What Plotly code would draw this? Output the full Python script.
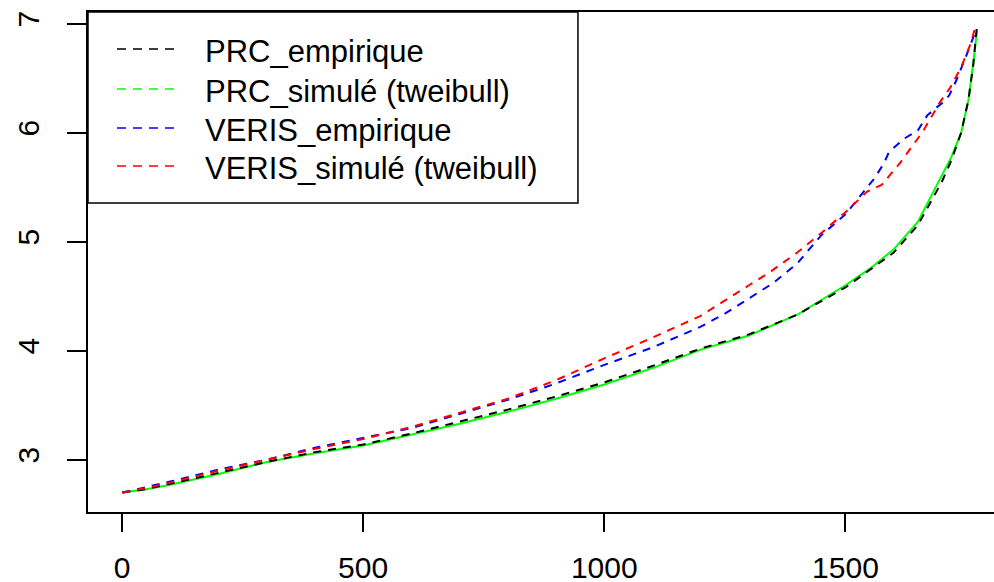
import plotly.graph_objects as go

# ---- data ----
prc_emp_x = [1, 50, 100, 200, 300, 400, 500, 600, 700, 800, 900, 1000, 1100, 1200, 1300, 1400, 1500, 1550, 1600, 1650, 1700, 1720, 1740, 1755, 1765, 1772]
prc_emp_y = [2.70, 2.73, 2.78, 2.88, 2.98, 3.07, 3.14, 3.24, 3.35, 3.46, 3.58, 3.71, 3.86, 4.02, 4.15, 4.33, 4.58, 4.74, 4.90, 5.15, 5.55, 5.75, 6.00, 6.30, 6.62, 6.95]

prc_sim_x = [1, 50, 100, 200, 300, 400, 500, 600, 700, 800, 900, 1000, 1100, 1200, 1300, 1400, 1500, 1550, 1600, 1650, 1700, 1720, 1740, 1755, 1765, 1773]
prc_sim_y = [2.70, 2.73, 2.77, 2.87, 2.98, 3.06, 3.13, 3.23, 3.33, 3.44, 3.56, 3.69, 3.84, 4.01, 4.14, 4.33, 4.60, 4.75, 4.93, 5.18, 5.60, 5.78, 6.00, 6.30, 6.64, 6.94]

veris_emp_x = [1, 50, 100, 200, 300, 400, 500, 600, 700, 800, 900, 1000, 1100, 1200, 1250, 1300, 1350, 1400, 1450, 1500, 1530, 1560, 1580, 1590, 1620, 1650, 1670, 1700, 1715, 1730, 1750, 1769]
veris_emp_y = [2.70, 2.75, 2.80, 2.91, 3.00, 3.11, 3.20, 3.29, 3.42, 3.55, 3.70, 3.87, 4.03, 4.22, 4.34, 4.48, 4.62, 4.80, 5.06, 5.25, 5.41, 5.58, 5.72, 5.82, 5.94, 6.02, 6.16, 6.27, 6.34, 6.48, 6.70, 6.92]

veris_sim_x = [1, 50, 100, 200, 300, 400, 500, 600, 700, 800, 900, 1000, 1100, 1200, 1300, 1340, 1400, 1450, 1500, 1545, 1575, 1613, 1662, 1696, 1717, 1740, 1760, 1770]
veris_sim_y = [2.70, 2.74, 2.79, 2.90, 3.00, 3.10, 3.19, 3.30, 3.43, 3.56, 3.73, 3.93, 4.12, 4.32, 4.60, 4.71, 4.90, 5.08, 5.27, 5.46, 5.52, 5.72, 6.02, 6.28, 6.41, 6.60, 6.82, 6.98]

names = ["PRC_empirique", "PRC_simulé (tweibull)", "VERIS_empirique", "VERIS_simulé (tweibull)"]
colors = ["black", "#00ff00", "blue", "red"]

x_ticks = [0, 500, 1000, 1500]
y_ticks = [3, 4, 5, 6, 7]

FONT = "Liberation Sans, Arial, sans-serif"
DASH = "8px,7px"

fig = go.Figure()
# draw order: green (looks solid in the plot), black, blue, red
series = [
    (prc_sim_x, prc_sim_y, 1, "solid"),
    (prc_emp_x, prc_emp_y, 0, DASH),
    (veris_emp_x, veris_emp_y, 2, DASH),
    (veris_sim_x, veris_sim_y, 3, DASH),
]
for xs, ys, i, dash in series:
    fig.add_trace(go.Scatter(
        x=xs, y=ys, mode="lines", name=names[i], showlegend=False,
        line=dict(color=colors[i], width=2, dash=dash),
    ))

# ---- R-style legend box (paper coordinates of the plot area) ----
shapes = [dict(type="rect", xref="paper", yref="paper", x0=0, x1=0.5408, y0=0.618, y1=1,
               line=dict(color="black", width=1.5), fillcolor="white", layer="above")]
annotations = []
glyph_y = [0.926, 0.846, 0.768, 0.692]
text_y = [0.920, 0.842, 0.764, 0.686]
for i in range(4):
    shapes.append(dict(type="line", xref="paper", yref="paper", x0=0.032, x1=0.096,
                       y0=glyph_y[i], y1=glyph_y[i],
                       line=dict(color=colors[i], width=1.5, dash="9px,7px"), layer="above"))
    annotations.append(dict(xref="paper", yref="paper", x=0.1269, y=text_y[i],
                            xanchor="left", yanchor="middle", showarrow=False,
                            text=names[i], font=dict(family=FONT, size=31, color="black")))

fig.update_layout(
    width=994, height=582,
    margin=dict(l=88, r=0, t=12, b=70),
    paper_bgcolor="white", plot_bgcolor="white",
    font=dict(family=FONT, size=30, color="black"),
    showlegend=False,
    shapes=shapes, annotations=annotations,
)
fig.update_xaxes(
    range=[-70.5, 1808], tickvals=x_ticks, ticktext=[str(v) for v in x_ticks],
    showgrid=False, zeroline=False, showline=True, mirror=True, automargin=False,
    linecolor="black", linewidth=1.5, ticks="outside", ticklen=18, tickwidth=1.5,
    tickcolor="black", ticklabelstandoff=10,
)
fig.update_yaxes(
    range=[2.521, 7.106], tickvals=y_ticks, ticktext=[str(v) for v in y_ticks],
    showgrid=False, zeroline=False, showline=True, mirror=False, automargin=False,
    linecolor="black", linewidth=1.5, ticks="outside", ticklen=19, tickwidth=1.5,
    tickcolor="black", tickangle=-90, ticklabelstandoff=16,
)

fig.write_html(
    "out.html",
    config={"displayModeBar": False},
    post_script="document.body.style.margin='0';document.body.style.overflow='hidden';",
)
